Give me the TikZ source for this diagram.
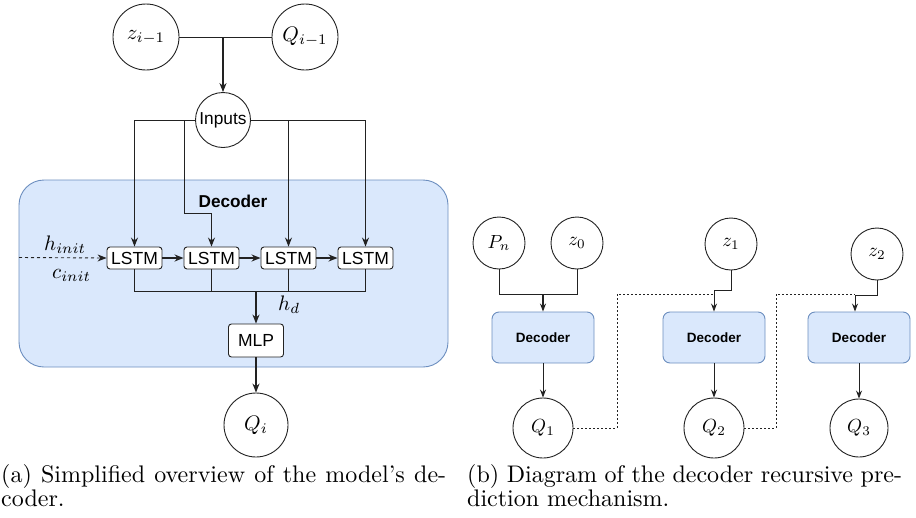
\documentclass[tikz,border=0pt]{standalone}
\usepackage{fontspec}
\newfontfamily\sansf{Liberation Sans}
\usetikzlibrary{arrows.meta}
\definecolor{decfill}{HTML}{DAE8FC}
\definecolor{decdraw}{HTML}{6C8EBF}
\definecolor{ln}{HTML}{222222}
\newcommand{\mL}[1]{\scalebox{2.1}{$#1$}}
\newcommand{\mS}[1]{\scalebox{1.9}{$#1$}}
\newcommand{\capL}[1]{\scalebox{2.4}{#1}}
\tikzset{
  circ/.style={circle, draw=ln, line width=0.9pt, inner sep=0pt, fill=white},
  lstmbox/.style={draw=ln, line width=0.9pt, rounded corners=3pt, fill=white, minimum width=55pt, minimum height=22pt, inner sep=0pt, font=\sansf\fontsize{17.5}{18}\selectfont},
  decsmall/.style={draw=decdraw, line width=0.9pt, fill=decfill, rounded corners=7pt, minimum width=102pt, minimum height=51pt, inner sep=0pt, font=\sansf\bfseries\fontsize{13.5}{14}\selectfont},
  wire/.style={draw=ln, line width=0.9pt},
  arr/.style={wire, -{Stealth[length=9pt,width=7pt]}},
  thickarr/.style={draw=ln, line width=1.5pt, -{Stealth[length=9pt,width=7pt]}},
  sarr/.style={wire, -{Stealth[length=8pt,width=6pt]}},
  dotline/.style={draw=ln, line width=0.8pt, dash pattern=on 2pt off 2pt},
  lab/.style={anchor=base west, inner sep=0pt},
  captext/.style={anchor=base west, inner sep=0pt}
}
\begin{document}
\begin{tikzpicture}[x=1pt,y=-1pt]
\useasboundingbox (0,0) rectangle (916,517);
% ---------- (a) ----------
\node[decsmall, minimum width=429pt, minimum height=187pt, rounded corners=25pt] (dec) at (233.5,273.5) {};
\node[font=\sansf\bfseries\fontsize{17.2}{18}\selectfont] (declab) at (233,201) {Decoder};

\node[circ, minimum size=66pt] (zim) at (146,37) {\mL{z_{i-1}}};
\node[circ, minimum size=66pt] (qim) at (305,37) {\mL{Q_{i-1}}};
\node[circ, minimum size=55pt, font=\sansf\fontsize{17.3}{18}\selectfont] (inp) at (223,120) {Inputs};

\node[lstmbox] (l1) at (134.5,258) {LSTM};
\node[lstmbox] (l2) at (211.5,258) {LSTM};
\node[lstmbox] (l3) at (288.5,258) {LSTM};
\node[lstmbox] (l4) at (365.5,258) {LSTM};
\node[lstmbox, minimum height=33pt] (mlp) at (256,340.5) {MLP};
\node[circ, minimum size=64pt] (qi) at (256,425) {\mL{Q_i}};

\coordinate (j0) at (223,37);
\draw[wire] (zim.east) -- (qim.west);
\draw[thickarr, line width=1.2pt] (j0) -- (inp.north);

\coordinate (in2a) at (184,120);
\coordinate (in2b) at (184,213);
\draw[arr] (inp.west) -| (l1.north);
\draw[arr] (inp.west) -- (in2a) -- (in2b) -| (l2.north);
\draw[arr] (inp.east) -| (l3.north);
\draw[arr] (inp.east) -| (l4.north);

\draw[thickarr] (l1.east) -- (l2.west);
\draw[thickarr] (l2.east) -- (l3.west);
\draw[thickarr] (l3.east) -- (l4.west);

\coordinate (hin) at (19,257.5);
\draw[arr, dashed] (hin) -- (l1.west);
\node[lab] (hinit) at (44,250) {\mL{h_{init}}};
\node[lab] (cinit) at (52,278) {\mL{c_{init}}};

\coordinate (busL) at (134.5,291);
\coordinate (busR) at (365.5,291);
\coordinate (busM) at (256,291);
\draw[wire] (l1.south) -- (busL) -- (busR) -- (l4.south);
\draw[wire] (l2.south) -- (l2.south |- busL);
\draw[wire] (l3.south) -- (l3.south |- busL);
\draw[thickarr, line width=1.2pt] (busM) -- (mlp.north);
\node[lab] (hd) at (278,310) {\mL{h_d}};
\draw[thickarr, line width=1.2pt] (mlp.south) -- (qi.north);

% ---------- (b) ----------
\node[circ, minimum size=52pt] (pn) at (499,243) {\mS{P_n}};
\node[circ, minimum size=52pt] (z0) at (577,243) {\mS{z_0}};
\node[circ, minimum size=52pt] (z1) at (731,244) {\mS{z_1}};
\node[circ, minimum size=52pt] (z2) at (877,254) {\mS{z_2}};

\node[decsmall] (d1) at (543,337.5) {Decoder};
\node[decsmall] (d2) at (714,337.5) {Decoder};
\node[decsmall] (d3) at (859,337.5) {Decoder};

\node[circ, minimum size=60pt] (q1) at (543,428) {\mS{Q_1}};
\node[circ, minimum size=60pt] (q2) at (714,428) {\mS{Q_2}};
\node[circ, minimum size=58pt] (q3) at (859,428) {\mS{Q_3}};

\coordinate (j1) at (543,294);
\draw[wire] (pn.south) |- (j1);
\draw[wire] (z0.south) |- (j1);
\draw[sarr, line width=1.2pt] (j1) -- (d1.north);

\coordinate (j2) at (714,290);
\draw[sarr] (z1.south) |- (j2) -- (d2.north);
\coordinate (j3) at (855,295);
\draw[sarr] (z2.south) |- (j3) -- (j3 |- d3.north);

\draw[sarr] (d1.south) -- (q1.north);
\draw[sarr] (d2.south) -- (q2.north);
\draw[sarr] (d3.south) -- (q3.north);

\coordinate (c1) at (617,294);
\coordinate (c2) at (776,294);
\draw[dotline] (q1.east) -| (c1) -- (j2 |- c1);
\draw[dotline] (q2.east) -| (c2) -- (j3 |- c2);

% ---------- captions ----------
\node[captext] (capa1) at (1,482) {\capL{\makebox[185.4pt][s]{(a) Simplified overview of the model's de-}}};
\node[captext] (capa2) at (1,506) {\capL{coder.}};
\node[captext] (capb1) at (467,482) {\capL{\makebox[181.2pt][s]{(b) Diagram of the decoder recursive pre-}}};
\node[captext] (capb2) at (467,506) {\capL{diction mechanism.}};
\end{tikzpicture}
\end{document}
